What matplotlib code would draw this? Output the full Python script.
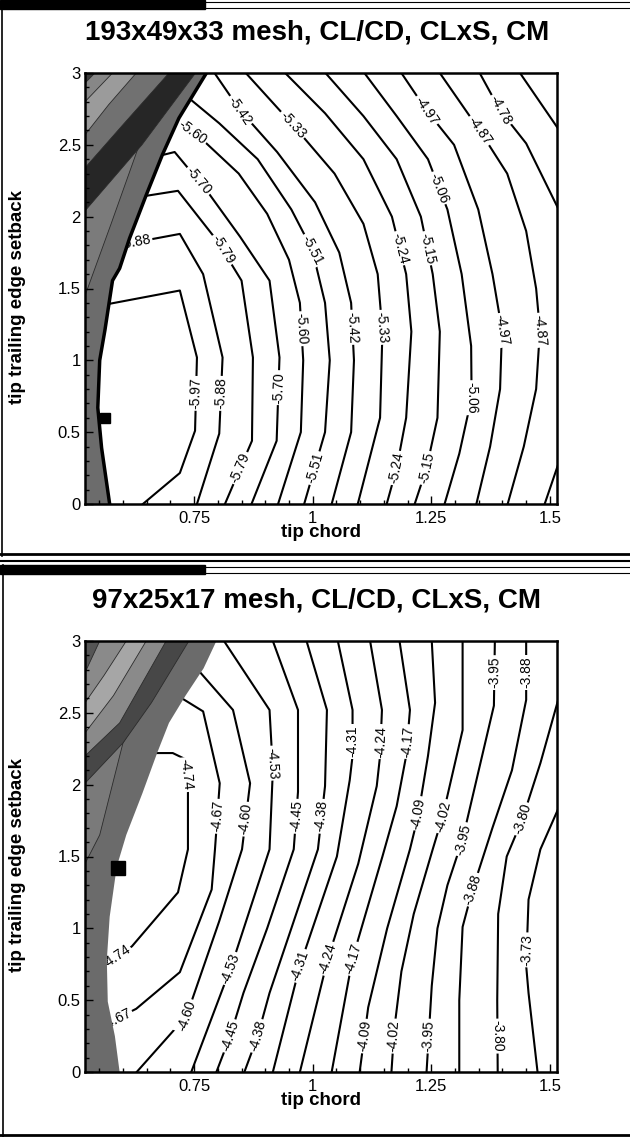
import numpy as np
import matplotlib
matplotlib.use('Agg')
import matplotlib.pyplot as plt
from matplotlib.ticker import MultipleLocator
from matplotlib.patches import Rectangle

plt.rcParams['font.family'] = ['Liberation Sans', 'DejaVu Sans']

x_ticks = [0.75, 1.0, 1.25, 1.5]
x_tick_labels = ['0.75', '1', '1.25', '1.5']
y_ticks = [0, 0.5, 1, 1.5, 2, 2.5, 3]
y_tick_labels = ['0', '0.5', '1', '1.5', '2', '2.5', '3']

# ---------------- upper panel: 193x49x33 mesh ----------------
fine_title = '193x49x33 mesh, CL/CD, CLxS, CM'
fine_levels = ['-5.97', '-5.88', '-5.79', '-5.70', '-5.60', '-5.51', '-5.42', '-5.33',
               '-5.24', '-5.15', '-5.06', '-4.97', '-4.87', '-4.78', '-4.78', '-4.69']
fine_lines = [
    [(0.55, 1.38), (0.720, 1.486), (0.756, 1.02), (0.752, 0.51), (0.720, 0.216), (0.642, 0.0)],
    [(0.59, 1.80), (0.720, 1.88), (0.769, 1.60), (0.810, 1.02), (0.803, 0.49), (0.756, 0.0)],
    [(0.62, 2.13), (0.716, 2.18), (0.798, 1.835), (0.850, 1.555), (0.874, 1.02), (0.872, 0.44), (0.815, 0.0)],
    [(0.66, 2.41), (0.709, 2.45), (0.777, 2.18), (0.847, 1.86), (0.909, 1.555), (0.930, 1.02), (0.924, 0.44), (0.871, 0.0)],
    [(0.69, 2.73), (0.763, 2.55), (0.844, 2.30), (0.904, 2.02), (0.950, 1.70), (0.973, 1.40), (0.980, 1.00), (0.975, 0.50), (0.927, 0.0)],
    [(0.73, 2.85), (0.803, 2.65), (0.884, 2.40), (0.955, 2.05), (0.999, 1.77), (1.026, 1.40), (1.036, 1.0), (1.026, 0.50), (0.982, 0.0)],
    [(0.793, 3.0), (0.847, 2.74), (0.925, 2.45), (1.005, 2.1), (1.056, 1.75), (1.081, 1.40), (1.087, 1.0), (1.081, 0.5), (1.040, 0.0)],
    [(0.859, 3.0), (0.958, 2.64), (1.046, 2.30), (1.107, 1.95), (1.137, 1.60), (1.147, 1.2), (1.142, 0.6), (1.095, 0.0)],
    [(0.942, 3.0), (1.026, 2.72), (1.107, 2.40), (1.167, 2.0), (1.197, 1.6), (1.208, 1.2), (1.197, 0.6), (1.177, 0.25), (1.156, 0.0)],
    [(1.027, 3.0), (1.107, 2.70), (1.177, 2.40), (1.228, 2.0), (1.253, 1.6), (1.268, 1.2), (1.263, 0.6), (1.240, 0.25), (1.215, 0.0)],
    [(1.109, 3.0), (1.177, 2.70), (1.243, 2.40), (1.284, 2.05), (1.314, 1.6), (1.334, 1.1), (1.335, 0.74), (1.309, 0.35), (1.278, 0.0)],
    [(1.187, 3.0), (1.240, 2.74), (1.298, 2.50), (1.349, 2.05), (1.379, 1.6), (1.399, 1.21), (1.395, 0.8), (1.374, 0.4), (1.345, 0.0)],
    [(1.268, 3.0), (1.352, 2.6), (1.410, 2.30), (1.450, 1.9), (1.471, 1.5), (1.479, 1.21), (1.471, 0.8), (1.445, 0.4), (1.411, 0.0)],
    [(1.352, 3.0), (1.395, 2.74), (1.450, 2.51), (1.52, 2.04)],
    [(1.489, 0.0), (1.52, 0.30)],
    [(1.437, 3.0), (1.52, 2.60)],
]
fine_labels = [('-5.42', 2.74), ('-5.33', 2.64), ('-5.60', 2.59), ('-5.70', 2.25),
               ('-5.88', 1.822), ('-5.79', 1.77), ('-5.51', 1.77), ('-5.97', 0.77),
               ('-5.88', 0.77), ('-5.70', 0.81), ('-5.60', 1.22), ('-5.79', 0.25),
               ('-5.51', 0.25), ('-5.42', 1.23), ('-5.33', 1.23), ('-5.24', 1.78),
               ('-5.24', 0.25), ('-5.15', 1.78), ('-5.15', 0.25), ('-5.06', 2.2),
               ('-5.06', 0.74), ('-4.97', 2.74), ('-4.97', 1.21), ('-4.87', 2.60),
               ('-4.87', 1.21), ('-4.78', 2.74)]
fine_bound = [(0.572, 0.0), (0.555, 0.39), (0.547, 0.67), (0.551, 1.0), (0.562, 1.21),
              (0.578, 1.555), (0.593, 1.64), (0.614, 1.85), (0.649, 2.15), (0.683, 2.43),
              (0.718, 2.686), (0.776, 3.0)]
fine_bands = [
    [(0.66, 2.70), (0.63, 2.46), (0.575, 1.95), (0.52, 1.45)],
    [(0.753, 3.0), (0.64, 2.50), (0.52, 2.04)],
    [(0.697, 3.0), (0.60, 2.64), (0.52, 2.34)],
    [(0.628, 3.0), (0.57, 2.78), (0.52, 2.57)],
    [(0.578, 3.0), (0.52, 2.80)],
    [(0.541, 3.0), (0.52, 2.93)],
]
fine_opt = (0.562, 0.60)

# ---------------- lower panel: 97x25x17 mesh ----------------
coarse_title = '97x25x17 mesh, CL/CD, CLxS, CM'
coarse_levels = ['-4.74', '-4.67', '-4.60', '-4.53', '-4.45', '-4.38', '-4.31', '-4.24',
                 '-4.17', '-4.09', '-4.02', '-3.95', '-3.88', '-3.80', '-3.73']
coarse_lines = [
    [(0.64, 2.22), (0.705, 2.22), (0.730, 2.18), (0.737, 1.97), (0.737, 1.55), (0.716, 1.25), (0.619, 0.875), (0.55, 0.72)],
    [(0.71, 2.63), (0.769, 2.51), (0.804, 2.01), (0.794, 1.55), (0.787, 1.27), (0.720, 0.695), (0.628, 0.44), (0.55, 0.31)],
    [(0.75, 2.83), (0.832, 2.52), (0.868, 2.01), (0.851, 1.55), (0.803, 1.05), (0.734, 0.39), (0.629, 0.0)],
    [(0.813, 3.0), (0.909, 2.52), (0.916, 2.1), (0.909, 1.55), (0.831, 0.76), (0.744, 0.0)],
    [(0.916, 3.0), (0.969, 2.52), (0.969, 1.95), (0.960, 1.55), (0.904, 1.0), (0.854, 0.55), (0.826, 0.25), (0.797, 0.0)],
    [(0.987, 3.0), (1.030, 2.52), (1.026, 1.99), (1.011, 1.55), (0.955, 1.0), (0.909, 0.55), (0.884, 0.25), (0.856, 0.0)],
    [(1.053, 3.0), (1.084, 2.52), (1.084, 2.2), (1.078, 2.03), (1.051, 1.5), (0.973, 0.74), (0.916, 0.0)],
    [(1.121, 3.0), (1.146, 2.52), (1.142, 2.2), (1.135, 1.99), (1.096, 1.45), (1.032, 0.79), (0.973, 0.0)],
    [(1.183, 3.0), (1.205, 2.52), (1.197, 2.2), (1.177, 1.85), (1.147, 1.5), (1.084, 0.79), (1.040, 0.0)],
    [(1.251, 3.0), (1.258, 2.57), (1.243, 2.2), (1.222, 1.78), (1.205, 1.55), (1.157, 1.0), (1.117, 0.45), (1.099, 0.0)],
    [(1.316, 3.0), (1.316, 2.38), (1.274, 1.78), (1.253, 1.55), (1.213, 1.1), (1.187, 0.7), (1.172, 0.3), (1.166, 0.0)],
    [(1.384, 3.0), (1.382, 2.55), (1.350, 2.1), (1.316, 1.62), (1.284, 1.3), (1.263, 1.0), (1.251, 0.6), (1.240, 0.0)],
    [(1.450, 3.0), (1.450, 2.59), (1.420, 2.1), (1.379, 1.7), (1.337, 1.27), (1.316, 1.01), (1.309, 0.5), (1.309, 0.0)],
    [(1.52, 2.62), (1.480, 2.15), (1.442, 1.76), (1.409, 1.5), (1.391, 1.1), (1.389, 0.5), (1.390, 0.0)],
    [(1.52, 1.85), (1.480, 1.55), (1.455, 1.2), (1.450, 0.74), (1.455, 0.55), (1.474, 0.0)],
]
coarse_labels = [('-4.74', 2.07), ('-4.74', 0.80), ('-4.67', 1.78), ('-4.67', 0.37),
                 ('-4.60', 1.76), ('-4.60', 0.39), ('-4.53', 2.15), ('-4.53', 0.72),
                 ('-4.45', 1.78), ('-4.45', 0.25), ('-4.38', 1.78), ('-4.38', 0.25),
                 ('-4.31', 2.30), ('-4.31', 0.74), ('-4.24', 2.30), ('-4.24', 0.79),
                 ('-4.17', 2.30), ('-4.17', 0.79), ('-4.09', 1.80), ('-4.09', 0.25),
                 ('-4.02', 1.78), ('-4.02', 0.25), ('-3.95', 2.78), ('-3.95', 1.62),
                 ('-3.95', 0.25), ('-3.88', 2.78), ('-3.88', 1.27), ('-3.80', 1.76),
                 ('-3.80', 0.25), ('-3.73', 0.85)]
coarse_bound = [(0.593, 0.0), (0.583, 0.25), (0.568, 0.49), (0.566, 0.78), (0.572, 1.08),
                (0.587, 1.43), (0.607, 1.65), (0.641, 1.94), (0.672, 2.22), (0.697, 2.43),
                (0.732, 2.62), (0.770, 2.81), (0.797, 3.0)]
coarse_bands = [
    [(0.62, 2.40), (0.60, 2.29), (0.551, 1.65), (0.52, 1.45)],
    [(0.739, 3.0), (0.66, 2.57), (0.60, 2.29), (0.52, 2.01)],
    [(0.691, 3.0), (0.593, 2.43), (0.52, 2.20)],
    [(0.649, 3.0), (0.58, 2.62), (0.52, 2.36)],
    [(0.607, 3.0), (0.56, 2.76), (0.52, 2.57)],
    [(0.551, 3.0), (0.52, 2.78)],
]
coarse_opt = (0.589, 1.42)

fine_greys = ['#6c6c6c', '#7b7b7b', '#262626', '#717171', '#9b9b9b', '#878787', '#3d3d3d']
coarse_greys = ['#6b6b6b', '#7a7a7a', '#474747', '#8a8a8a', '#a6a6a6', '#8a8a8a', '#555555']

W, H = 630, 1137
fig = plt.figure(figsize=(W / 100, H / 100), dpi=100)

# window frames around the two screenshots
bg = fig.add_axes([0, 0, 1, 1], zorder=-10)
bg.set_xlim(0, W)
bg.set_ylim(H, 0)
bg.axis('off')
for y0 in (0, 565):
    bg.add_patch(Rectangle((0, y0), 205, 9, color='black'))
    bg.plot([205, W], [y0 + 1.5, y0 + 1.5], color='black', lw=0.8)
    bg.plot([205, W], [y0 + 8, y0 + 8], color='black', lw=0.8)
bg.plot([2, 2], [0, 556], color='black', lw=1.2)
bg.plot([3, 3], [565, H], color='black', lw=1.2)
bg.plot([0, W], [554, 554], color='black', lw=2)
bg.plot([0, W], [561, 561], color='black', lw=1.5)
bg.plot([0, W], [1134.5, 1134.5], color='black', lw=2)


def put_label(ax, pts, y0, text):
    for (x1, y1), (x2, y2) in zip(pts[:-1], pts[1:]):
        if y1 != y2 and min(y1, y2) <= y0 <= max(y1, y2):
            x0 = x1 + (y0 - y1) * (x2 - x1) / (y2 - y1)
            p1 = ax.transData.transform((x1, y1))
            p2 = ax.transData.transform((x2, y2))
            ang = np.degrees(np.arctan2(p2[1] - p1[1], p2[0] - p1[0]))
            if ang > 90:
                ang -= 180
            if ang <= -90:
                ang += 180
            ax.text(x0, y0, text, rotation=ang, rotation_mode='anchor',
                    ha='center', va='center', fontsize=10, zorder=1.3,
                    bbox=dict(boxstyle='square,pad=0.12', fc='white', ec='none'))
            return


def panel(top_px, title, levels, lines, labels, bound, bands, greys, opt, opt_ms, bound_lw):
    left, right, hgt = 85, 557, 431
    ax = fig.add_axes([left / W, 1 - (top_px + hgt) / H, (right - left) / W, hgt / H])
    ax.set_xlim(0.52, 1.515)
    ax.set_ylim(0, 3)

    for pts in lines:
        xs, ys = zip(*pts)
        ax.plot(xs, ys, color='black', lw=1.5, zorder=1.2)
    for lev, y0 in labels:
        put_label(ax, lines[levels.index(lev)], y0, lev)

    # infeasible region
    bx, by = zip(*bound)
    ax.fill(list(bx) + [0.3, 0.3], list(by) + [3.0, 0.0], color=greys[0], lw=0, zorder=1.5)
    for i, (edge, g) in enumerate(zip(bands, greys[1:])):
        ex, ey = zip(*edge)
        ax.fill(list(ex) + [0.3, 0.3], list(ey) + [ey[-1], 3.0], color=g, lw=0,
                zorder=1.51 + 0.01 * i)
        ax.plot(ex, ey, color='#2b2b2b', lw=0.6, zorder=1.515 + 0.01 * i)
    if bound_lw:
        ax.plot(bx, by, color='black', lw=bound_lw, zorder=1.8)
    ax.plot([opt[0]], [opt[1]], marker='s', color='black', ms=opt_ms, zorder=1.9)

    ax.set_xticks(x_ticks, labels=x_tick_labels)
    ax.set_yticks(y_ticks, labels=y_tick_labels)
    ax.xaxis.set_minor_locator(MultipleLocator(0.05))
    ax.yaxis.set_minor_locator(MultipleLocator(0.1))
    ax.tick_params(which='both', direction='in', top=False, right=False, width=1.0)
    ax.tick_params(which='major', length=6, labelsize=12)
    ax.tick_params(which='minor', length=3)
    ax.tick_params(axis='x', pad=5)
    ax.tick_params(axis='y', pad=3)
    ax.xaxis.set_zorder(3)
    ax.yaxis.set_zorder(3)
    for sp in ax.spines.values():
        sp.set_linewidth(1.8)

    ax.set_xlabel('tip chord', fontsize=13.5, fontweight='bold', va='center')
    ax.xaxis.set_label_coords(0.5, -0.067)
    ax.set_ylabel('tip trailing edge setback', fontsize=13.5, fontweight='bold', va='center')
    ax.yaxis.set_label_coords(-0.142, 0.48)

    fig.text(317 / W, 1 - (top_px - 41) / H, title, ha='center', va='center',
             fontsize=20, fontweight='bold')
    return ax


panel(73, fine_title, fine_levels, fine_lines, fine_labels, fine_bound,
      fine_bands, fine_greys, fine_opt, 6.5, 2.5)
panel(641, coarse_title, coarse_levels, coarse_lines, coarse_labels, coarse_bound,
      coarse_bands, coarse_greys, coarse_opt, 9.5, 0)

fig.savefig('out.png', dpi=100)
